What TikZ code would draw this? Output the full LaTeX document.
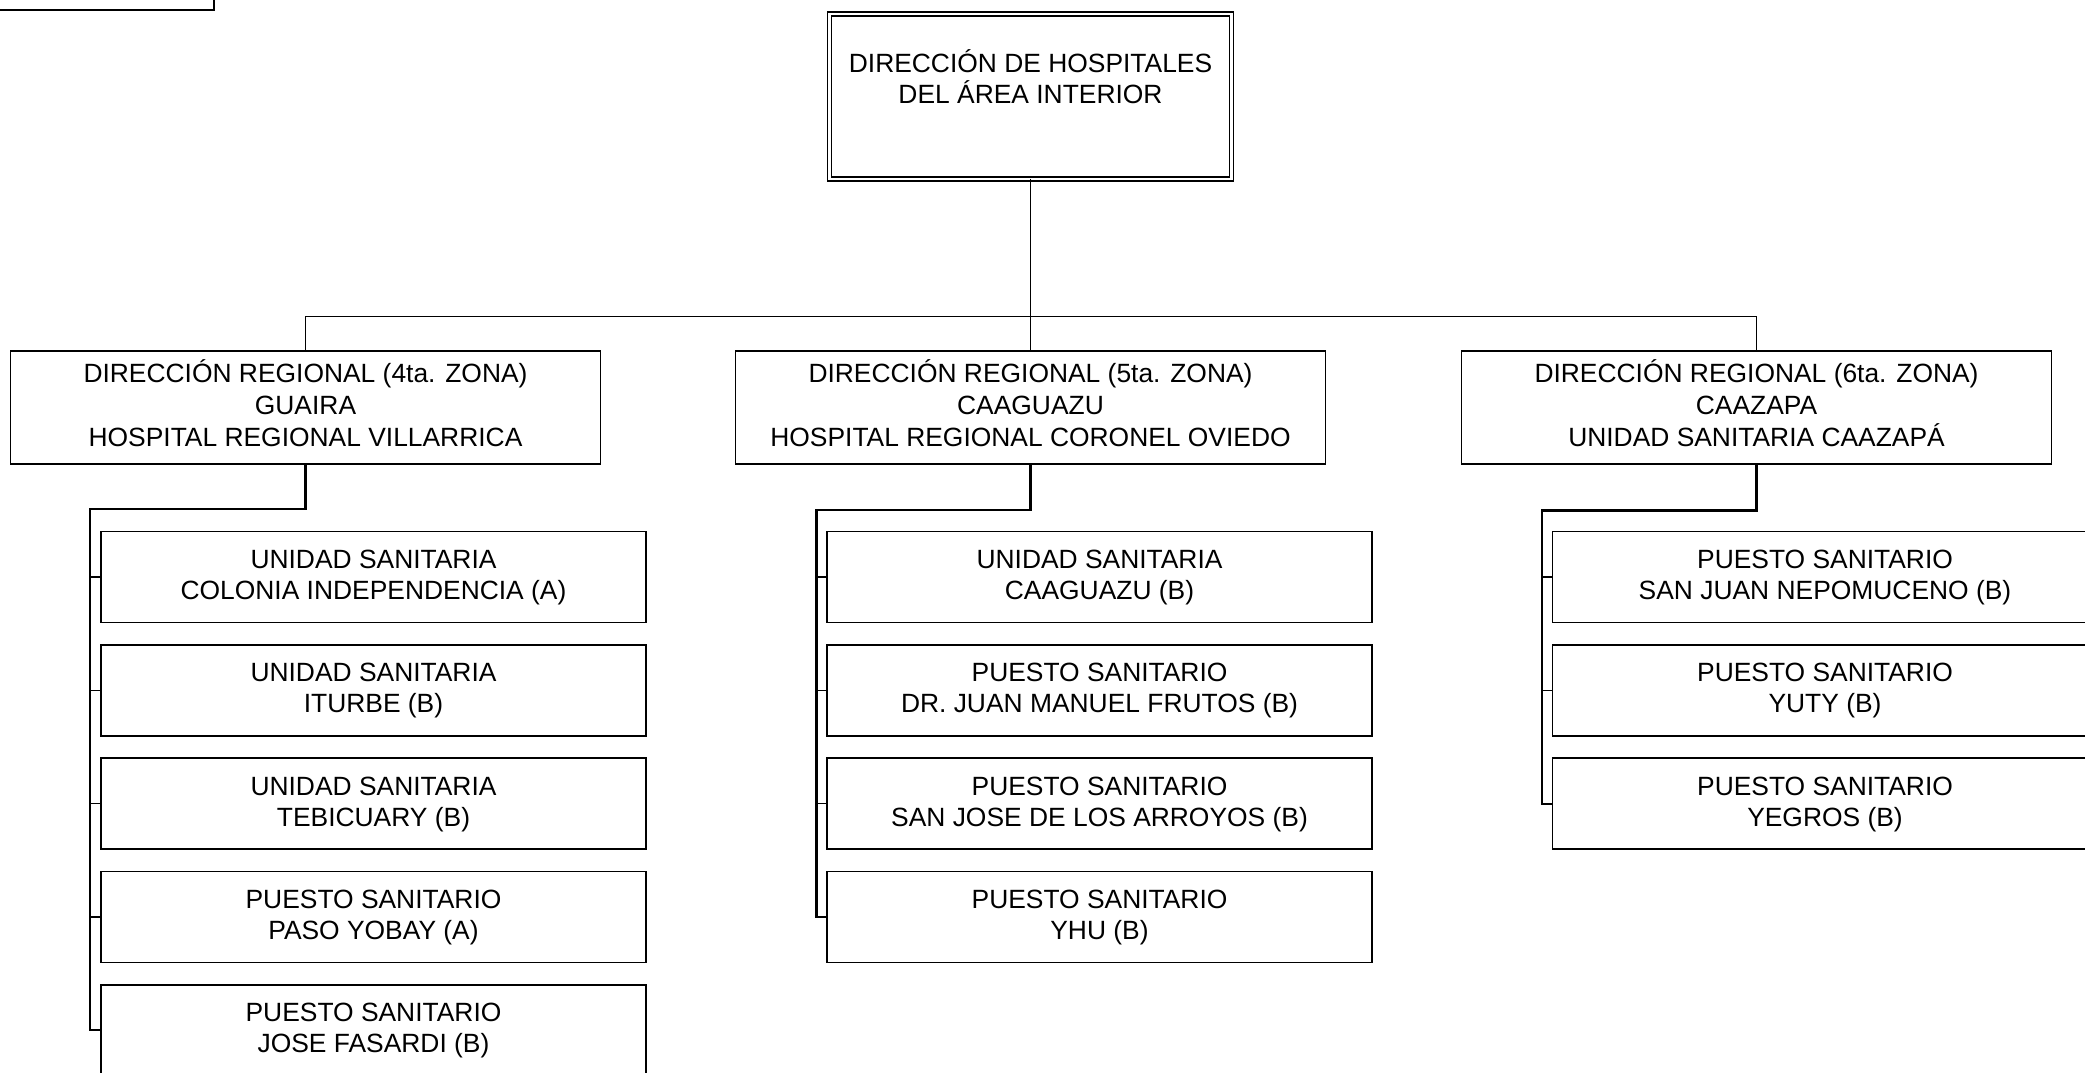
\documentclass[tikz,border=0pt]{standalone}
\usepackage{fontspec}
\setmainfont{Liberation Sans}
\newcommand\topst{\rule{0pt}{1.016em}}
\newcommand\botst{\rule[-0.49em]{0pt}{0.49em}}
\begin{document}
\begin{tikzpicture}[x=1pt,y=-1pt,
  box/.style={draw, line width=1.4pt, outer sep=0pt, inner sep=0pt, align=center,
    font=\fontsize{26.4}{31.6}\selectfont},
  regbox/.style={box, minimum width=590pt, minimum height=113pt},
  childbox/.style={box, minimum width=545pt, minimum height=91pt,
    font=\fontsize{26.4}{30.9}\selectfont},
  topbox/.style={draw, double, line width=1.3pt, double distance=2.6pt,
    minimum width=402pt, minimum height=165pt, outer sep=0pt, inner sep=0pt},
  ttl/.style={anchor=base, inner sep=0pt, font=\fontsize{26.4}{30}\selectfont},
  bus/.style={line width=1.1pt},
  trunk/.style={line width=2.2pt},
  branch/.style={line width=1.1pt},
]
\useasboundingbox (0,0) rectangle (2085,1073);
\clip (0,0) rectangle (2085,1073);

% cut-off box at top left
\draw[line width=1.6pt] (-20,-20) rectangle (214,10);

% top box
\node[topbox] (top) at (1030.5,96.5) {};
\node[ttl] (ttl1) at (1030.5,72.7) {DIRECCIÓN DE HOSPITALES};
\node[ttl] (ttl2) at (1030.5,103) {DEL ÁREA INTERIOR};

% regional boxes
\node[regbox] (r1) at (305.5,407.5) {\topst DIRECCIÓN REGIONAL (4ta. ZONA)\\GUAIRA\\HOSPITAL REGIONAL VILLARRICA\botst};
\node[regbox] (r2) at (1030.5,407.5) {\topst DIRECCIÓN REGIONAL (5ta. ZONA)\\CAAGUAZU\\HOSPITAL REGIONAL CORONEL OVIEDO\botst};
\node[regbox] (r3) at (1756.5,407.5) {\topst DIRECCIÓN REGIONAL (6ta. ZONA)\\CAAZAPA\\UNIDAD SANITARIA CAAZAPÁ\botst};

% column 1
\node[childbox] (c11) at (373.5,577) {\topst UNIDAD SANITARIA\\COLONIA INDEPENDENCIA (A)\botst};
\node[childbox] (c12) at (373.5,690.3) {\topst UNIDAD SANITARIA\\ITURBE (B)\botst};
\node[childbox] (c13) at (373.5,803.6) {\topst UNIDAD SANITARIA\\TEBICUARY (B)\botst};
\node[childbox] (c14) at (373.5,917) {\topst PUESTO SANITARIO\\PASO YOBAY (A)\botst};
\node[childbox] (c15) at (373.5,1030.3) {\topst PUESTO SANITARIO\\JOSE FASARDI (B)\botst};

% column 2
\node[childbox] (c21) at (1099.5,577) {\topst UNIDAD SANITARIA\\CAAGUAZU (B)\botst};
\node[childbox] (c22) at (1099.5,690.3) {\topst PUESTO SANITARIO\\DR. JUAN MANUEL FRUTOS (B)\botst};
\node[childbox] (c23) at (1099.5,803.6) {\topst PUESTO SANITARIO\\SAN JOSE DE LOS ARROYOS (B)\botst};
\node[childbox] (c24) at (1099.5,917) {\topst PUESTO SANITARIO\\YHU (B)\botst};

% column 3
\node[childbox] (c31) at (1825,577) {\topst PUESTO SANITARIO\\SAN JUAN NEPOMUCENO (B)\botst};
\node[childbox] (c32) at (1825,690.3) {\topst PUESTO SANITARIO\\YUTY (B)\botst};
\node[childbox] (c33) at (1825,803.6) {\topst PUESTO SANITARIO\\YEGROS (B)\botst};

% top connectors
\coordinate (bus) at (1030.5,316.5);
\draw[bus] (top.south) -- (bus);
\draw[bus] (r1.north) |- (bus) -| (r3.north);
\draw[bus] (bus) -- (r2.north);

% column trunks
\coordinate (k1) at (90,509);
\coordinate (k2) at (816.4,510);
\coordinate (k3) at (1542.3,510.5);
\draw[trunk] (r1.south) |- (k1) |- (c15.west);
\draw[trunk] (r2.south) |- (k2) |- (c24.west);
\draw[trunk] (r3.south) |- (k3) |- (c33.west);
\foreach \c in {c11,c12,c13,c14} \draw[branch] (k1 |- \c.west) -- (\c.west);
\foreach \c in {c21,c22,c23} \draw[branch] (k2 |- \c.west) -- (\c.west);
\foreach \c in {c31,c32} \draw[branch] (k3 |- \c.west) -- (\c.west);
\end{tikzpicture}
\end{document}
